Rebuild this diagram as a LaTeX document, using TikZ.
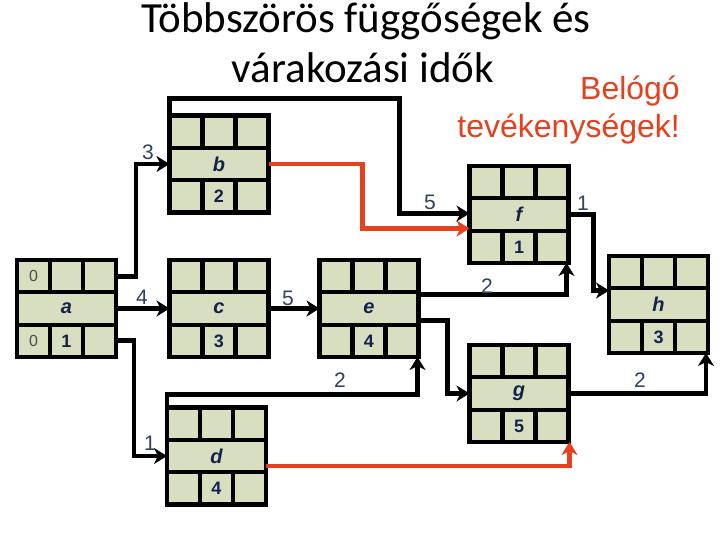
\documentclass[tikz,border=0pt]{standalone}
\usepackage{fontspec}
\setmainfont{Liberation Sans}
\newfontfamily\titlefont{Carlito}
\usetikzlibrary{arrows.meta,calc}
\definecolor{cellfill}{HTML}{D7DFC0}
\definecolor{cellink}{HTML}{14234B}
\definecolor{lblink}{HTML}{2E4260}
\definecolor{critred}{HTML}{E8401C}
\newcommand\actbox[5]{%
  \node[act] (#1) at (#2,#3) {};
  \draw[grid] ($(#1.north west)+(0,32.3)$) -- ++(99,0);
  \draw[grid] ($(#1.south west)+(0,-32.3)$) -- ++(99,0);
  \draw[grid] ($(#1.north west)+(33,0)$) -- ++(0,32.3);
  \draw[grid] ($(#1.north west)+(66,0)$) -- ++(0,32.3);
  \draw[grid] ($(#1.south west)+(33,0)$) -- ++(0,-32.3);
  \draw[grid] ($(#1.south west)+(66,0)$) -- ++(0,-32.3);
  \node[cellletter] (#1-name) at (#1.center) {#4};
  \node[cellnum] (#1-dur) at ($(#1.south)+(0,-16)$) {#5};
}
\begin{document}
\begin{tikzpicture}[x=1pt,y=-1pt,
  act/.style={draw=black, line width=4.2pt, fill=cellfill, minimum width=99pt, minimum height=97pt, inner sep=0pt, outer sep=0pt},
  grid/.style={line width=4.2pt, draw=black},
  cellletter/.style={text=cellink, font=\fontsize{20}{20}\selectfont\bfseries\itshape, inner sep=0pt},
  cellnum/.style={text=cellink, font=\fontsize{18}{18}\selectfont\bfseries, inner sep=0pt},
  zero/.style={text=black!70, font=\fontsize{16}{16}\selectfont, inner sep=0pt},
  conn/.style={line width=4.2pt, draw=black, -{Stealth[length=13pt,width=16pt,inset=4pt]}},
  crit/.style={conn, draw=critred, color=critred},
  lbl/.style={text=lblink, font=\fontsize{21}{21}\selectfont, inner sep=0pt},
]
\useasboundingbox (0,0) rectangle (720,540);
\fill[white] (0,0) rectangle (720,540);

% title
\node[font=\titlefont\fontsize{43}{50}\selectfont, anchor=base, inner sep=0pt] (t1) at (366,33) {Többszörös függőségek és};
\node[font=\titlefont\fontsize{43}{50}\selectfont, anchor=base, inner sep=0pt] (t2) at (363,83) {várakozási idők};
\node[font=\fontsize{32}{32}\selectfont, text=critred, anchor=base east, inner sep=0pt] (r1) at (680,100) {Belógó};
\node[font=\fontsize{32}{32}\selectfont, text=critred, anchor=base east, inner sep=0pt] (r2) at (680,138) {tevékenységek!};

% activities
\actbox{a}{66.5}{308.5}{a}{1}
\actbox{b}{219}{164}{b}{2}
\actbox{c}{219}{308.5}{c}{3}
\actbox{d}{216.5}{456}{d}{4}
\actbox{e}{369}{308.5}{e}{4}
\actbox{f}{519}{214.5}{f}{1}
\actbox{g}{519}{393.5}{g}{5}
\actbox{h}{658.5}{304.5}{h}{3}
\node[zero] (a-es) at ($(a.north west)+(16.5,16)$) {0};
\node[zero] (a-ls) at ($(a.south west)+(16.5,-16)$) {0};

% connectors
\draw[conn] ($(a.east)+(0,-32)$) -- ++(20,0) |- (b.west);
\draw[conn] (a.east) -- (c.west);
\draw[conn] ($(a.east)+(0,32)$) -- ++(18,0) |- (d.west);
\draw[crit] (b.east) -- ++(94,0) |- ($(f.west)+(0,14)$);
\draw[conn] ($(b.north west)+(0,18)$) -- ++(0,-35) -| ($(f.west)+(-70,-1)$) -- ($(f.west)+(0,-1)$);
\draw[conn] (c.east) -- (e.west);
\draw[conn] ($(e.east)+(0,-14)$) -| ($(f.south east)+(-2,0)$);
\draw[conn] ($(e.east)+(0,12)$) -- ++(29,0) |- (g.west);
\draw[conn] ($(d.north west)+(0,15)$) -- ++(0,-28) -| ($(e.south east)+(-1,0)$);
\draw[crit] ($(d.east)+(0,10)$) -| ($(g.south east)+(1,0)$);
\draw[conn] (f.east) -- ++(25,0) |- ($(h.west)+(0,-14)$);
\draw[conn] (g.east) -| ($(h.south east)+(-2,0)$);

% labels
\node[lbl] (l-ab) at (148,152) {3};
\node[lbl] (l-ac) at (142,297) {4};
\node[lbl] (l-ad) at (150,443) {1};
\node[lbl] (l-ce) at (288,298) {5};
\node[lbl] (l-bf) at (430,202) {5};
\node[lbl] (l-fh) at (583,203) {1};
\node[lbl] (l-ef) at (487,286) {2};
\node[lbl] (l-de) at (340,380) {2};
\node[lbl] (l-gh) at (640,380) {2};
\end{tikzpicture}
\end{document}
